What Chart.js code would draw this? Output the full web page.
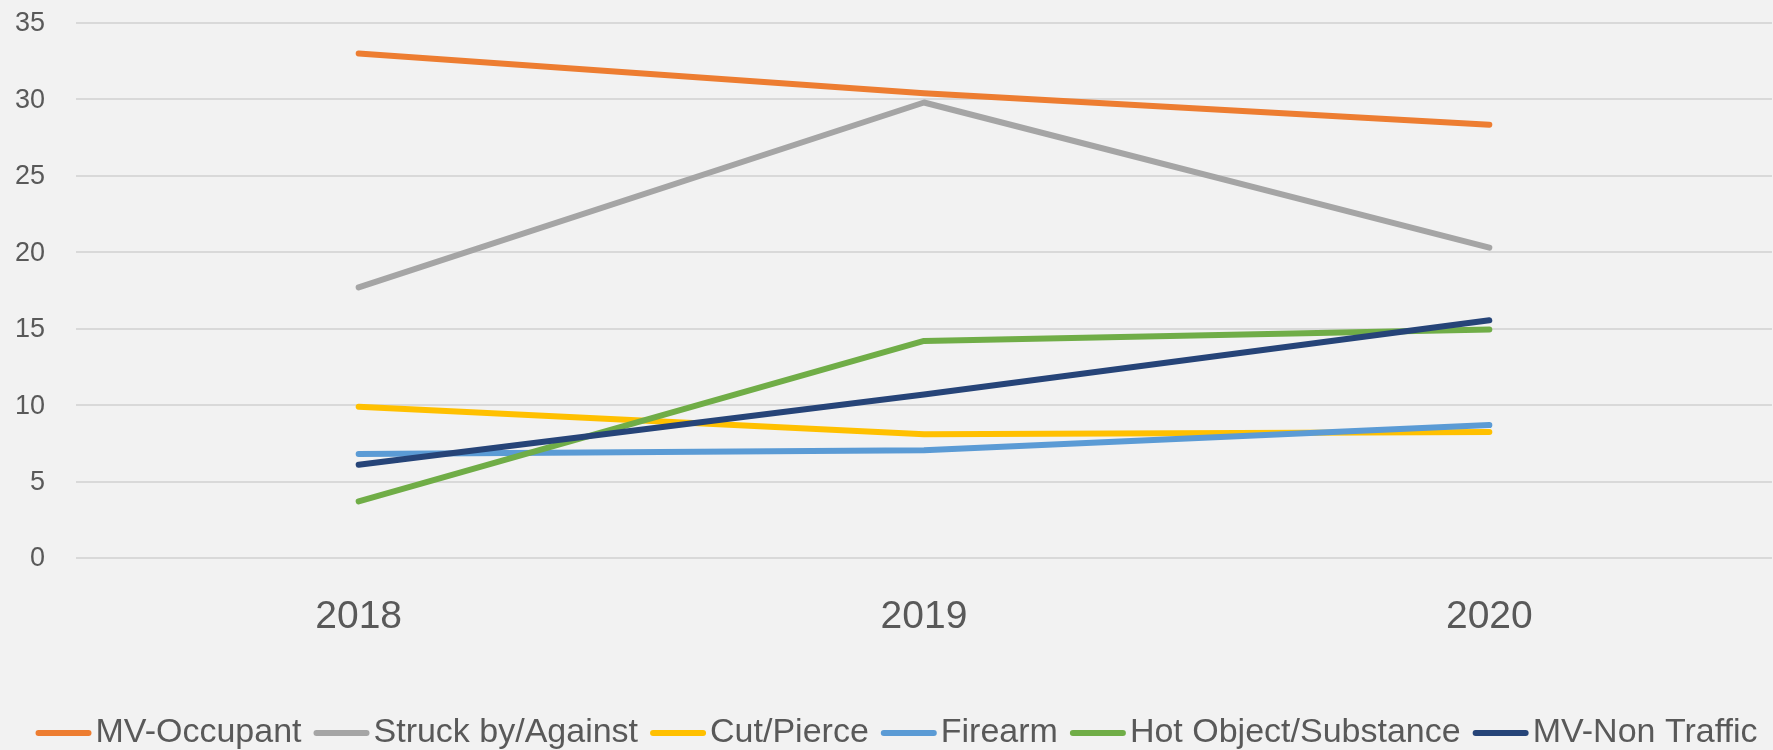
<!DOCTYPE html>
<html>
<head>
<meta charset="utf-8">
<script src="https://cdn.jsdelivr.net/npm/chart.js@4/dist/chart.umd.min.js"></script>
<style>
  html, body { margin: 0; padding: 0; background: #f2f2f2; }
  #wrap { width: 1773px; height: 750px; }
</style>
</head>
<body>
<div id="wrap"><canvas id="chart" width="1773" height="750"></canvas></div>
<script>
// values
const years = ['2018', '2019', '2020'];
const seriesNames = ['MV-Occupant', 'Struck by/Against', 'Cut/Pierce', 'Firearm', 'Hot Object/Substance', 'MV-Non Traffic'];
const mvOccupant = [33.0, 30.4, 28.35];
const struckBy = [17.7, 29.8, 20.3];
const cutPierce = [9.9, 8.1, 8.25];
const firearm = [6.8, 7.05, 8.7];
const hotObject = [3.7, 14.2, 14.95];
const mvNonTraffic = [6.1, 10.7, 15.55];
const yTicks = [0, 5, 10, 15, 20, 25, 30, 35];

const colors = ['#ED7D31', '#A5A5A5', '#FFC000', '#5B9BD5', '#70AD47', '#264478'];
const allValues = [mvOccupant, struckBy, cutPierce, firearm, hotObject, mvNonTraffic];

const FONT = '"Liberation Sans", Arial, sans-serif';
const TEXT_COLOR = '#595959';

// y tick labels: drawn at the scale's own tick pixels, with a wide gap to the plot
const yLabels = {
    id: 'yLabels',
    afterDraw(chart) {
        const ctx = chart.ctx;
        const scale = chart.scales.y;
        ctx.save();
        ctx.font = '27px ' + FONT;
        ctx.fillStyle = TEXT_COLOR;
        ctx.textAlign = 'right';
        ctx.textBaseline = 'middle';
        scale.ticks.forEach(t => {
            ctx.fillText(String(t.value), scale.right - 31, scale.getPixelForValue(t.value) + 1);
        });
        ctx.restore();
    }
};

// legend drawn by hand: short line, small gap, text (Excel style)
const bottomLegend = {
    id: 'bottomLegend',
    afterDraw(chart) {
        const ctx = chart.ctx;
        const lineLen = 56, gapText = 4, gapItem = 12;
        ctx.save();
        ctx.font = '34px ' + FONT;
        ctx.textBaseline = 'middle';
        ctx.textAlign = 'left';
        const items = chart.data.datasets.map(ds => ({
            label: ds.label,
            color: ds.borderColor,
            w: ctx.measureText(ds.label).width
        }));
        const total = items.reduce((s, it) => s + lineLen + gapText + it.w, 0) + gapItem * (items.length - 1);
        let x = chart.width / 2 + 10 - total / 2;
        const y = 733;
        items.forEach(it => {
            ctx.strokeStyle = it.color;
            ctx.lineWidth = 6;
            ctx.lineCap = 'round';
            ctx.beginPath();
            ctx.moveTo(x + 3, y);
            ctx.lineTo(x + lineLen - 3, y);
            ctx.stroke();
            ctx.fillStyle = TEXT_COLOR;
            ctx.fillText(it.label, x + lineLen + gapText, y);
            x += lineLen + gapText + it.w + gapItem;
        });
        ctx.restore();
    }
};

const datasets = seriesNames.map((name, i) => ({
    label: name,
    data: allValues[i],
    borderColor: colors[i],
    backgroundColor: colors[i],
    borderWidth: 6,
    borderCapStyle: 'round',
    borderJoinStyle: 'round',
    pointRadius: 0,
    tension: 0,
    order: seriesNames.length - i
}));

new Chart(document.getElementById('chart'), {
    type: 'line',
    data: { labels: years, datasets },
    options: {
        responsive: false,
        animation: false,
        layout: { padding: { top: 23, left: 0, right: 1, bottom: 112 } },
        plugins: {
            legend: { display: false },
            tooltip: { enabled: false },
            title: { display: false }
        },
        scales: {
            x: {
                offset: true,
                grid: { display: false, drawTicks: false },
                border: { display: false },
                ticks: {
                    color: TEXT_COLOR,
                    font: { family: FONT, size: 39 },
                    padding: 36,
                    maxRotation: 0
                },
                afterFit(scale) { scale.height = 80; }
            },
            y: {
                min: 0,
                max: 35,
                afterBuildTicks(scale) { scale.ticks = yTicks.map(v => ({ value: v })); },
                grid: { color: '#d9d9d9', lineWidth: 2, drawTicks: false },
                border: { display: false },
                ticks: { display: false },
                afterFit(scale) { scale.width = 76; }
            }
        }
    },
    plugins: [yLabels, bottomLegend]
});
</script>
</body>
</html>
